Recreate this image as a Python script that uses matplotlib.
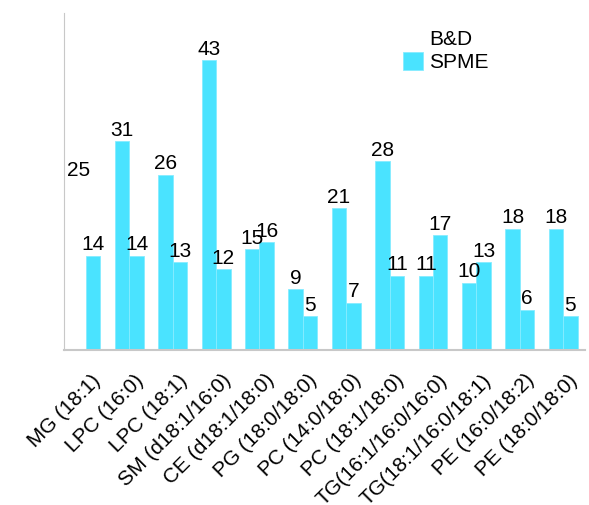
import numpy as np
import matplotlib
matplotlib.use("Agg")
import matplotlib.pyplot as plt
import matplotlib.transforms as mtransforms

plt.rcParams['font.family'] = ['Liberation Sans', 'DejaVu Sans']

categories = ["MG (18:1)", "LPC (16:0)", "LPC (18:1)", "SM (d18:1/16:0)",
              "CE (d18:1/18:0)", "PG (18:0/18:0)", "PC (14:0/18:0)",
              "PC (18:1/18:0)", "TG(16:1/16:0/16:0)", "TG(18:1/16:0/18:1)",
              "PE (16:0/18:2)", "PE (18:0/18:0)"]
bd_values = [25, 31, 26, 43, 15, 9, 21, 28, 11, 10, 18, 18]
spme_values = [14, 14, 13, 12, 16, 5, 7, 11, 17, 13, 6, 5]

cyan = "#4ae3ff"
edge = "#86ecff"
fs = 15

fig = plt.figure(figsize=(5.89, 5.05), dpi=100)
ax = fig.add_axes([0.109, 0.307, 0.884, 0.667])

x = np.arange(len(categories))
w = 1 / 3
# the first B&D bar is drawn white in the original
bd_colors = ["white"] + [cyan] * (len(bd_values) - 1)
bd_edges = ["white"] + [edge] * (len(bd_values) - 1)

b1 = ax.bar(x - w / 2, bd_values, w, color=bd_colors, edgecolor=bd_edges,
            linewidth=0.6, label="B&D")
b2 = ax.bar(x + w / 2, spme_values, w, color=cyan, edgecolor=edge,
            linewidth=0.6, label="SPME")

ax.bar_label(b1, fontsize=fs, padding=1)
ax.bar_label(b2, fontsize=fs, padding=1)

ax.set_xlim(-0.5, len(categories) - 0.5)
ax.set_ylim(0, 50)
ax.set_yticks([])
ax.set_xticks(x)
ax.set_xticklabels(categories, rotation=45, ha="right", rotation_mode="anchor",
                   fontsize=fs)
ax.tick_params(axis="x", length=0, pad=15)
shift = mtransforms.ScaledTranslation(5 / 100, 0, fig.dpi_scale_trans)
for lab in ax.get_xticklabels():
    lab.set_transform(lab.get_transform() + shift)

for s in ["top", "right"]:
    ax.spines[s].set_visible(False)
ax.spines["left"].set_color("#c8c8c8")
ax.spines["bottom"].set_color("#c8c8c8")
ax.spines["bottom"].set_linewidth(1.5)

ax.legend(loc="upper left", bbox_to_anchor=(0.615, 1.01), frameon=False,
          fontsize=fs, handlelength=0.95, handleheight=0.95,
          handletextpad=0.3, labelspacing=0.15)

fig.savefig("out.png", dpi=100)
